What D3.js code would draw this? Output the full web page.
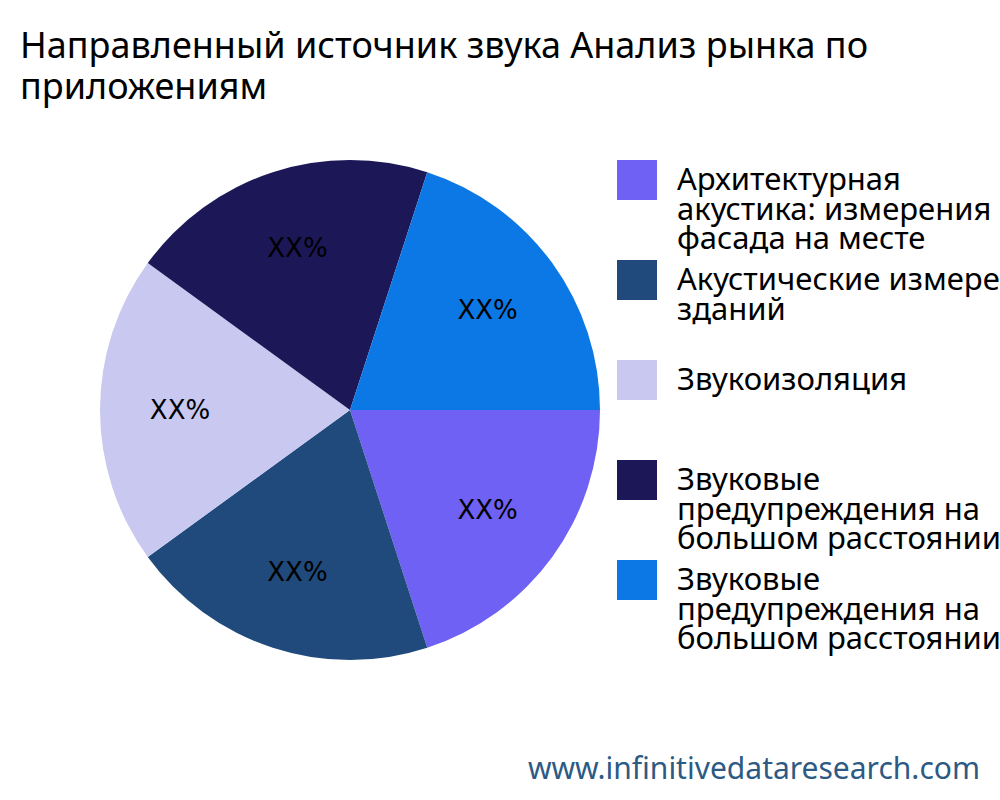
<!DOCTYPE html><html><head><meta charset="utf-8"><script src="https://cdn.jsdelivr.net/npm/d3@7"></script>
<style>body{margin:0;background:#fff}</style></head><body><svg id="c" width="1000" height="800"></svg><script>
const categories=[["Архитектурная","акустика: измерения","фасада на месте"],["Акустические измерения","зданий"],["Звукоизоляция"],["Звуковые","предупреждения на","большом расстоянии"],["Звуковые","предупреждения на","большом расстоянии"]];
const values=[20,20,20,20,20];
const labels=["XX%","XX%","XX%","XX%","XX%"];
const colors=["#6f61f3","#1f4a7b","#c8c8f0","#1c1757","#0b78e6"];
const svg=d3.select("#c");
const font="'Noto Sans','Open Sans',sans-serif";
svg.append("text").attr("x",20).attr("y",58).attr("font-family",font).attr("font-size",36).text("Направленный источник звука Анализ рынка по");
svg.append("text").attr("x",20).attr("y",99).attr("font-family",font).attr("font-size",36).text("приложениям");
const cx=350,cy=410,R=250;
const pie=d3.pie().sort(null).startAngle(Math.PI/2).endAngle(Math.PI/2+2*Math.PI);
const arcs=pie(values);
const arc=d3.arc().innerRadius(0).outerRadius(R);
const larc=d3.arc().innerRadius(R*0.68).outerRadius(R*0.68);
const g=svg.append("g").attr("transform",`translate(${cx},${cy})`);
g.selectAll("path").data(arcs).join("path").attr("d",arc).attr("fill",(d,i)=>colors[i]);
g.selectAll("text").data(arcs).join("text").attr("transform",d=>`translate(${larc.centroid(d)})`)
 .attr("text-anchor","middle").attr("dy","0.35em").attr("font-family","'DejaVu Sans',sans-serif").attr("font-size",26).text((d,i)=>labels[i]);
const lg=svg.append("g");
categories.forEach((c,i)=>{
 const y=160+i*100;
 lg.append("rect").attr("x",617).attr("y",y).attr("width",40).attr("height",40).attr("fill",colors[i]);
 const t=lg.append("text").attr("font-family",font).attr("font-size",31);
 c.forEach((s,j)=>t.append("tspan").attr("x",677).attr("y",y+30+j*29.5).text(s));
});
svg.append("text").attr("x",980).attr("y",779).attr("text-anchor","end").attr("font-family",font).attr("font-size",30).attr("fill","#2c5a85").text("www.infinitivedataresearch.com");
</script></body></html>
